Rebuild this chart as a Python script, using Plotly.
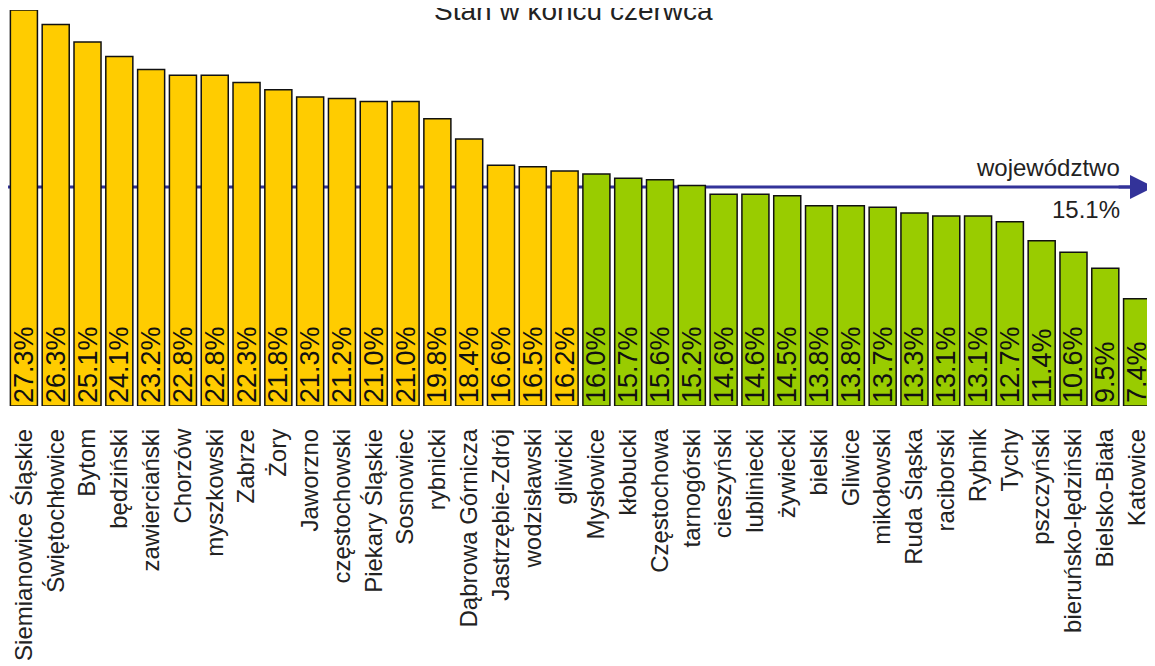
import plotly.graph_objects as go

categories = [
    "Siemianowice Śląskie", "Świętochłowice", "Bytom", "będziński", "zawierciański",
    "Chorzów", "myszkowski", "Zabrze", "Żory", "Jaworzno", "częstochowski",
    "Piekary Śląskie", "Sosnowiec", "rybnicki", "Dąbrowa Górnicza", "Jastrzębie-Zdrój",
    "wodzisławski", "gliwicki", "Mysłowice", "kłobucki", "Częstochowa", "tarnogórski",
    "cieszyński", "lubliniecki", "żywiecki", "bielski", "Gliwice", "mikołowski",
    "Ruda Śląska", "raciborski", "Rybnik", "Tychy", "pszczyński",
    "bieruńsko-lędziński", "Bielsko-Biała", "Katowice",
]
values = [
    27.3, 26.3, 25.1, 24.1, 23.2, 22.8, 22.8, 22.3, 21.8, 21.3, 21.2, 21.0, 21.0,
    19.8, 18.4, 16.6, 16.5, 16.2, 16.0, 15.7, 15.6, 15.2, 14.6, 14.6, 14.5, 13.8,
    13.8, 13.7, 13.3, 13.1, 13.1, 12.7, 11.4, 10.6, 9.5, 7.4,
]
# group of each bar: "A" = yellow, "B" = green (as in the reference)
groups = ["A"] * 18 + ["B"] * 18
voivodeship_value = 15.1
voivodeship_label = "województwo"
title_text = "Stan w końcu czerwca"

group_colors = {"A": "#FFCC00", "B": "#99CC00"}
bar_colors = [group_colors[g] for g in groups]

FONT = "Liberation Sans, Arial, sans-serif"

fig = go.Figure()
fig.add_trace(go.Bar(
    x=categories,
    y=values,
    marker=dict(color=bar_colors, line=dict(color="#111111", width=1.5)),
    text=[f"{v:.1f}%" for v in values],
    textposition="inside",
    insidetextanchor="start",
    textangle=-90,
    constraintext="none",
    textfont=dict(family=FONT, size=27, color="#111111"),
    hoverinfo="x+y",
))

# voivodeship average line (behind bars)
fig.add_shape(
    type="line", xref="paper", yref="y",
    x0=0, x1=0.99, y0=voivodeship_value, y1=voivodeship_value,
    line=dict(color="#333399", width=3), layer="below",
)
# arrow head
fig.add_annotation(
    xref="paper", yref="y", x=1.008, y=voivodeship_value,
    ax=-45, ay=0, text="", showarrow=True,
    arrowhead=2, arrowsize=1.6, arrowwidth=3, arrowcolor="#333399",
)
fig.add_annotation(
    xref="paper", yref="y", x=0.973, y=voivodeship_value, yshift=19,
    xanchor="right", yanchor="middle", text=voivodeship_label, showarrow=False,
    font=dict(family=FONT, size=24, color="#222222"),
)
fig.add_annotation(
    xref="paper", yref="y", x=0.973, y=voivodeship_value, yshift=-23,
    xanchor="right", yanchor="middle", text=f"{voivodeship_value:.1f}%", showarrow=False,
    font=dict(family=FONT, size=24, color="#222222"),
)
# title
fig.add_annotation(
    xref="paper", yref="paper", x=0.4935, y=1, yshift=-18,
    xanchor="center", yanchor="bottom", text=title_text, showarrow=False,
    font=dict(family=FONT, size=28, color="#222222"),
)

# the page body adds an 8px offset; size the figure to compensate
fig.update_layout(
    width=1147, height=658,
    margin=dict(l=0, r=2, t=2, b=260),
    paper_bgcolor="white", plot_bgcolor="white",
    bargap=0.15,
    showlegend=False,
    font=dict(family=FONT, size=24, color="#222222"),
    xaxis=dict(
        tickangle=-90, showline=False, showgrid=False, ticks="",
        tickfont=dict(family=FONT, size=24, color="#222222"),
        ticklabelstandoff=17,
    ),
    yaxis=dict(range=[0, 27.3], visible=False, showgrid=False),
)

fig.write_html("out.html")
